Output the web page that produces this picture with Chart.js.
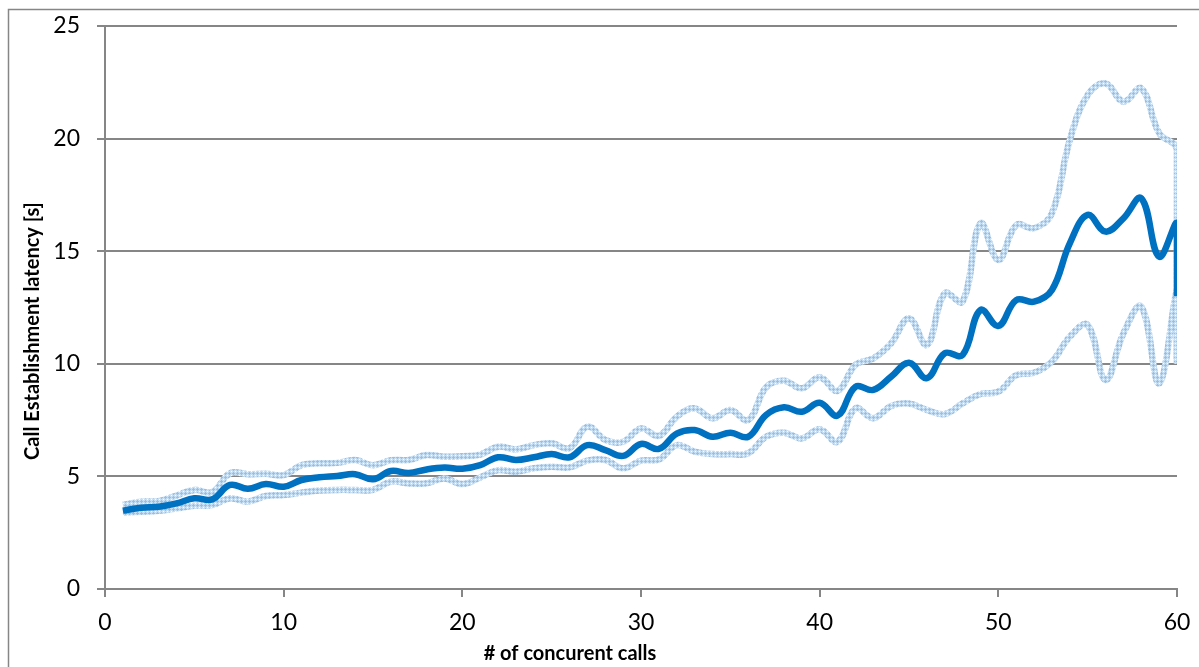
<!DOCTYPE html>
<html>
<head>
<meta charset="utf-8">
<script src="https://cdn.jsdelivr.net/npm/chart.js@4/dist/chart.umd.min.js"></script>
<style>
  html, body { margin: 0; padding: 0; background: #ffffff; }
  #wrap { width: 1199px; height: 667px; position: relative; }
</style>
</head>
<body>
<div id="wrap"><canvas id="latency" width="1199" height="667"></canvas></div>
<script>
// Number of concurrent calls (x); the last row repeats x = 60
const concurrentCalls = [
  1, 2, 3, 4, 5, 6, 7, 8, 9, 10,
  11, 12, 13, 14, 15, 16, 17, 18, 19, 20,
  21, 22, 23, 24, 25, 26, 27, 28, 29, 30,
  31, 32, 33, 34, 35, 36, 37, 38, 39, 40,
  41, 42, 43, 44, 45, 46, 47, 48, 49, 50,
  51, 52, 53, 54, 55, 56, 57, 58, 59, 60, 60
];

// Mean call establishment latency [s]
const meanLatency = [
  3.48, 3.61, 3.65, 3.80, 4.03, 3.98, 4.62, 4.45, 4.66, 4.54,
  4.84, 4.96, 5.02, 5.10, 4.87, 5.24, 5.15, 5.31, 5.39, 5.34,
  5.50, 5.85, 5.73, 5.85, 5.99, 5.85, 6.39, 6.17, 5.91, 6.44,
  6.22, 6.90, 7.06, 6.76, 6.94, 6.76, 7.73, 8.07, 7.87, 8.27,
  7.70, 8.98, 8.84, 9.43, 10.05, 9.36, 10.47, 10.39, 12.39, 11.68,
  12.83, 12.76, 13.28, 15.35, 16.61, 15.87, 16.46, 17.35, 14.76, 16.24, 13.0
];

// Upper bound of the latency [s]
const upperLatency = [
  3.73, 3.88, 3.90, 4.15, 4.40, 4.30, 5.14, 5.10, 5.12, 5.06,
  5.50, 5.58, 5.60, 5.73, 5.50, 5.72, 5.73, 5.95, 5.87, 5.90,
  5.97, 6.32, 6.20, 6.39, 6.47, 6.25, 7.21, 6.62, 6.54, 7.13,
  6.80, 7.65, 8.02, 7.58, 7.95, 7.50, 8.96, 9.25, 8.91, 9.40,
  8.80, 9.95, 10.24, 10.91, 12.02, 10.84, 13.13, 12.76, 16.24, 14.61,
  16.16, 16.02, 16.68, 19.94, 21.94, 22.45, 21.64, 22.23, 20.24, 19.50, 10.2
];

// Lower bound of the latency [s]
const lowerLatency = [
  3.39, 3.43, 3.47, 3.58, 3.70, 3.73, 4.03, 3.88, 4.13, 4.17,
  4.28, 4.37, 4.40, 4.40, 4.40, 4.77, 4.69, 4.70, 4.91, 4.66,
  4.95, 5.28, 5.21, 5.36, 5.43, 5.40, 5.70, 5.73, 5.36, 5.70,
  5.75, 6.39, 6.10, 5.99, 5.99, 6.03, 6.76, 6.94, 6.69, 7.09,
  6.54, 8.02, 7.58, 8.13, 8.24, 7.95, 7.77, 8.24, 8.66, 8.76,
  9.50, 9.60, 10.10, 11.20, 11.72, 9.28, 11.35, 12.54, 9.13, 13.28, 10.0
];

// Axis ranges and tick steps
const xTicks = [0, 10, 20, 30, 40, 50, 60];
const yTicks = [0, 5, 10, 15, 20, 25];

const xTitle = '# of concurent calls';
const yTitle = 'Call Establishment latency [s]';

const axisGrey = '#868686';
const tickFont = { family: 'Lato', size: 23 };

function toPoints(values) {
  return values.map((v, i) => ({ x: concurrentCalls[i], y: v }));
}

// Speckled light-blue fill used for the bound lines
function speckle(ctx) {
  const c = document.createElement('canvas');
  c.width = 4; c.height = 4;
  const g = c.getContext('2d');
  g.fillStyle = '#c6def4';
  g.fillRect(0, 0, 4, 4);
  g.fillStyle = '#94c0ea';
  g.fillRect(1, 0, 1, 3);
  g.fillRect(0, 1, 3, 1);
  g.fillStyle = '#ffffff';
  g.fillRect(3, 3, 1, 1);
  return ctx.createPattern(c, 'repeat');
}

const canvas = document.getElementById('latency');
const ctx = canvas.getContext('2d');
const boundPattern = speckle(ctx);

// Frame and axis titles
const decorations = {
  id: 'decorations',
  afterDraw(chart) {
    const c = chart.ctx;
    c.save();
    c.strokeStyle = axisGrey;
    c.lineWidth = 1.5;
    c.beginPath();
    c.moveTo(8.5, 667);
    c.lineTo(8.5, 9.5);
    c.lineTo(1199, 9.5);
    c.stroke();

    c.fillStyle = '#000000';
    c.font = 'bold 20px Lato';
    c.textAlign = 'center';
    c.textBaseline = 'middle';
    c.fillText(xTitle, 570, 654);

    c.translate(33, 331);
    c.rotate(-Math.PI / 2);
    c.fillText(yTitle, 0, 0);
    c.restore();
  }
};

// Tick labels may overhang the plot edges without shrinking it
function noOverhang(scale) {
  scale.paddingTop = 0;
  scale.paddingBottom = 0;
  scale.paddingLeft = 0;
  scale.paddingRight = 0;
}

new Chart(ctx, {
  type: 'line',
  data: {
    datasets: [
      {
        label: 'Mean',
        data: toPoints(meanLatency),
        borderColor: '#0070C0',
        borderWidth: 6.5,
        pointRadius: 0,
        tension: 0.4,
        order: 0
      },
      {
        label: 'Upper',
        data: toPoints(upperLatency),
        borderColor: boundPattern,
        borderWidth: 6.5,
        pointRadius: 0,
        tension: 0.4,
        order: 1
      },
      {
        label: 'Lower',
        data: toPoints(lowerLatency),
        borderColor: boundPattern,
        borderWidth: 6.5,
        pointRadius: 0,
        tension: 0.4,
        order: 2
      }
    ]
  },
  options: {
    responsive: false,
    animation: false,
    events: [],
    layout: { padding: { left: 0, right: 22, top: 26, bottom: 0 } },
    plugins: {
      legend: { display: false },
      tooltip: { enabled: false }
    },
    scales: {
      x: {
        type: 'linear',
        min: xTicks[0],
        max: xTicks[xTicks.length - 1],
        afterBuildTicks(scale) { scale.ticks = xTicks.map(v => ({ value: v })); },
        afterFit(scale) { scale.height = 78; noOverhang(scale); },
        ticks: { font: tickFont, color: '#000000', padding: 12, maxRotation: 0 },
        grid: { drawOnChartArea: false, drawTicks: true, tickLength: 8, color: axisGrey, lineWidth: 2 },
        border: { display: true, color: axisGrey, width: 2 }
      },
      y: {
        type: 'linear',
        min: yTicks[0],
        max: yTicks[yTicks.length - 1],
        afterBuildTicks(scale) { scale.ticks = yTicks.map(v => ({ value: v })); },
        afterFit(scale) { scale.width = 105; noOverhang(scale); },
        ticks: { font: tickFont, color: '#000000', padding: 17 },
        grid: { drawTicks: true, tickLength: 8, color: axisGrey, lineWidth: 2 },
        border: { display: true, color: axisGrey, width: 2 }
      }
    }
  },
  plugins: [decorations]
});
</script>
</body>
</html>
